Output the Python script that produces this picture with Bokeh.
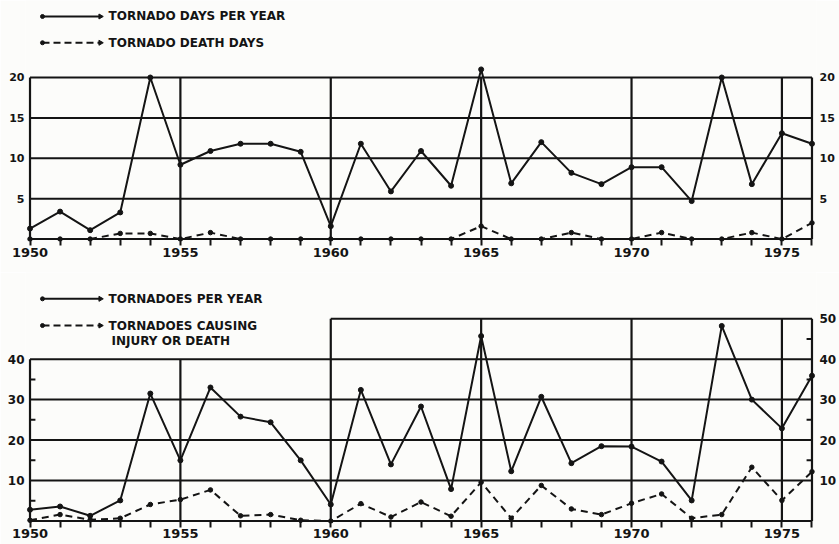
from bokeh.plotting import figure
from bokeh.models import Range1d, FixedTicker, LinearAxis, Label
from bokeh.layouts import column
from bokeh.embed import file_html
from bokeh.resources import INLINE

# ---------------- data ----------------
YEARS = list(range(1950, 1977))
YEAR_LABELS = [1950, 1955, 1960, 1965, 1970, 1975]

TORNADO_DAYS = [1.3, 3.4, 1.1, 3.3, 20.0, 9.2, 10.9, 11.8, 11.8, 10.8, 1.6, 11.8, 5.9, 10.9,
                6.6, 21.0, 6.9, 12.0, 8.2, 6.8, 8.9, 8.9, 4.7, 20.0, 6.8, 13.1, 11.8]
DEATH_DAYS = [0, 0, 0, 0.7, 0.7, 0, 0.8, 0, 0, 0, 0, 0, 0, 0,
              0, 1.6, 0, 0, 0.8, 0, 0, 0.8, 0, 0, 0.8, 0, 2.0]
TORNADOES = [2.8, 3.6, 1.3, 5.1, 31.5, 15.0, 33.0, 25.8, 24.4, 15.0, 4.1, 32.4, 14.0, 28.3,
             7.9, 45.7, 12.3, 30.7, 14.3, 18.5, 18.4, 14.7, 5.1, 48.2, 30.0, 22.9, 35.9]
INJURY_OR_DEATH = [0.2, 1.6, 0.3, 0.7, 4.1, 5.3, 7.7, 1.3, 1.6, 0.2, 0, 4.3, 1.0, 4.7,
                   1.2, 9.6, 0.7, 8.8, 3.0, 1.6, 4.4, 6.7, 0.7, 1.6, 13.3, 5.1, 12.2]

TOP_TICKS_LEFT = [5, 10, 15, 20]
TOP_TICKS_RIGHT = [5, 10, 15, 20]
BOT_TICKS_LEFT = [10, 20, 30, 40]
BOT_TICKS_RIGHT = [10, 20, 30, 40, 50]

TOP_LEGEND = ["TORNADO DAYS PER YEAR", "TORNADO DEATH DAYS"]
BOT_LEGEND = ["TORNADOES PER YEAR", "TORNADOES CAUSING", "INJURY OR DEATH"]

# ---------------- style ----------------
BG = "#fcfcfa"
INK = "#141414"
FONT = "DejaVu Sans"
W = 839
X0, X1 = YEARS[0], YEARS[-1]


def base_fig(height, y_range, bottom_border, standoff):
    p = figure(width=W, height=height, output_backend="svg", toolbar_location=None,
               x_range=Range1d(X0 - 0.15, X1 + 0.15), y_range=y_range,
               min_border_left=25, min_border_right=22, min_border_top=0,
               min_border_bottom=bottom_border,
               background_fill_color=BG, border_fill_color=BG, outline_line_color=None)
    p.xgrid.visible = False
    p.ygrid.visible = False
    xa = p.xaxis[0]
    xa.ticker = FixedTicker(ticks=YEARS)
    xa.major_label_overrides = {y: (str(y) if y in YEAR_LABELS else "") for y in YEARS}
    xa.axis_line_color = None
    xa.major_tick_line_color = INK
    xa.major_tick_line_width = 2
    xa.major_tick_out = 4
    xa.major_tick_in = 3
    xa.minor_tick_line_color = None
    xa.major_label_standoff = standoff
    xa.major_label_text_font = FONT
    xa.major_label_text_font_style = "bold"
    xa.major_label_text_font_size = "13px"
    xa.major_label_text_color = INK
    return p


def style_y(ax, ticks, standoff, size):
    ax.ticker = FixedTicker(ticks=ticks)
    ax.axis_line_color = None
    ax.major_tick_line_color = None
    ax.minor_tick_line_color = None
    ax.major_tick_out = 0
    ax.major_tick_in = 0
    ax.major_label_standoff = standoff
    ax.major_label_text_font = FONT
    ax.major_label_text_font_style = "bold"
    ax.major_label_text_font_size = size
    ax.major_label_text_color = INK


def legend_item(p, y, text, dash):
    lx0, lx1, tx = X0 + 0.415, X0 + 2.34, X0 + 2.61
    p.segment([lx0], [y], [lx1], [y], line_color=INK, line_width=2, line_dash=dash)
    p.scatter([lx0, lx1], [y, y], size=[4, 5], color=INK, marker=["circle", "triangle"],
              angle=[0, -1.5708])
    p.add_layout(Label(x=tx, y=y, text=text, text_font=FONT,
                       text_font_style="bold", text_font_size="12px", text_color=INK,
                       text_baseline="middle"))


# ---------------- top chart ----------------
top = base_fig(272, Range1d(-0.3, 29.53), 31, 2)
style_y(top.yaxis[0], TOP_TICKS_LEFT, 1, "11px")
ra = LinearAxis()
style_y(ra, TOP_TICKS_RIGHT, 3, "11px")
top.add_layout(ra, "right")

ymax_top = TOP_TICKS_LEFT[-1]
hy = [0] + TOP_TICKS_LEFT
top.segment([X0] * len(hy), hy, [X1] * len(hy), hy, line_color=INK, line_width=2)
vx = [X0] + YEAR_LABELS[1:] + [X1]
top.segment(vx, [0] * len(vx), vx, [ymax_top] * len(vx), line_color=INK, line_width=2.2)

top.line(YEARS, TORNADO_DAYS, line_color=INK, line_width=2)
top.scatter(YEARS, TORNADO_DAYS, size=5, color=INK)
top.line(YEARS, DEATH_DAYS, line_color=INK, line_width=2, line_dash="7 5")
top.scatter(YEARS, DEATH_DAYS, size=4.5, color=INK)

legend_item(top, 27.55, TOP_LEGEND[0], "solid")
legend_item(top, 24.3, TOP_LEGEND[1], "7 4")

# ---------------- bottom chart ----------------
bot = base_fig(272, Range1d(-0.6, 61.4), 21, 1)
style_y(bot.yaxis[0], BOT_TICKS_LEFT, 1, "12px")
rb = LinearAxis()
style_y(rb, BOT_TICKS_RIGHT, 3, "12px")
bot.add_layout(rb, "right")

left_top = BOT_TICKS_LEFT[-1]
right_top = BOT_TICKS_RIGHT[-1]
split = YEAR_LABELS[2]
hy = [0] + BOT_TICKS_LEFT
bot.segment([X0] * len(hy), hy, [X1] * len(hy), hy, line_color=INK, line_width=2)
bot.segment([split], [right_top], [X1], [right_top], line_color=INK, line_width=2)
vx = [X0, YEAR_LABELS[1]] + YEAR_LABELS[2:] + [X1]
vtop = [left_top, left_top] + [right_top] * (len(YEAR_LABELS) - 2) + [right_top]
bot.segment(vx, [0] * len(vx), vx, vtop, line_color=INK, line_width=2.2)
lm = [5, 15, 25, 35]
rm = [15, 25, 35, 45]
bot.segment([X0] * len(lm), lm, [X0 + 0.18] * len(lm), lm, line_color=INK, line_width=2)
bot.segment([X1 - 0.18] * len(rm), rm, [X1] * len(rm), rm, line_color=INK, line_width=2)

bot.line(YEARS, TORNADOES, line_color=INK, line_width=2)
bot.scatter(YEARS, TORNADOES, size=5, color=INK)
bot.line(YEARS, INJURY_OR_DEATH, line_color=INK, line_width=2, line_dash="7 5")
bot.scatter(YEARS, INJURY_OR_DEATH, size=4.5, color=INK)

legend_item(bot, 54.9, BOT_LEGEND[0], "solid")
legend_item(bot, 48.3, BOT_LEGEND[1], "7 4")
bot.add_layout(Label(x=X0 + 2.71, y=44.6, text=BOT_LEGEND[2], text_font=FONT,
                     text_font_style="bold", text_font_size="12px", text_color=INK,
                     text_baseline="middle"))

layout = column(top, bot, spacing=0)
open("out.html", "w").write(file_html(layout, INLINE))
